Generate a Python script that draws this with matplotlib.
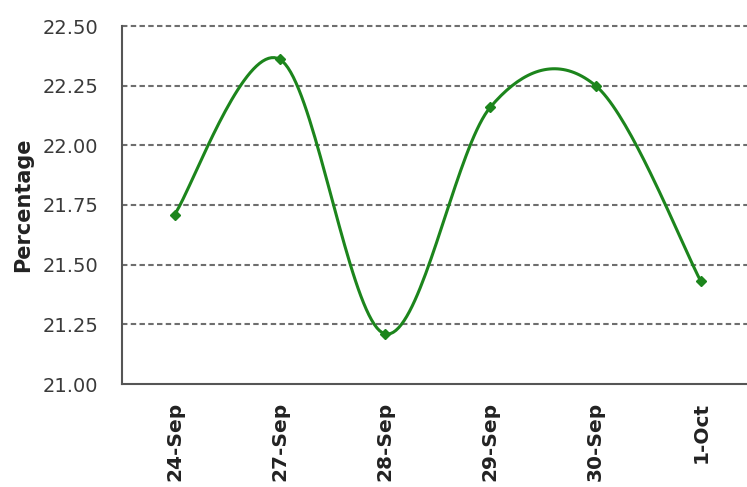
import numpy as np
import matplotlib
matplotlib.use("Agg")
from matplotlib import pyplot as plt

# daily percentage readings
dates = ["24-Sep", "27-Sep", "28-Sep", "29-Sep", "30-Sep", "1-Oct"]
values = [21.71, 22.36, 21.21, 22.16, 22.25, 21.43]
y_ticks = [21.00, 21.25, 21.50, 21.75, 22.00, 22.25, 22.50]


def smooth_curve(x, y, steps=40):
    # cubic bezier segments with catmull-rom style control points
    x = np.asarray(x, float)
    y = np.asarray(y, float)
    pts = np.column_stack([x, y])
    n = len(pts)
    out = []
    for i in range(n - 1):
        p0 = pts[max(i - 1, 0)]
        p1 = pts[i]
        p2 = pts[i + 1]
        p3 = pts[min(i + 2, n - 1)]
        c1 = p1 + (p2 - p0) / 6.0
        c2 = p2 - (p3 - p1) / 6.0
        t = np.linspace(0, 1, steps)[:, None]
        seg = ((1 - t) ** 3) * p1 + 3 * ((1 - t) ** 2) * t * c1 + 3 * (1 - t) * t ** 2 * c2 + t ** 3 * p2
        out.append(seg if i == 0 else seg[1:])
    curve = np.vstack(out)
    return curve[:, 0], curve[:, 1]


xs = np.arange(len(dates))
cx, cy = smooth_curve(xs, values)

fig = plt.figure(figsize=(7.47, 4.87), dpi=100)
# axes run off the right edge of the figure
ax = fig.add_axes([122 / 747, 1 - 384 / 487, (753.5 - 122) / 747, (384 - 26) / 487])

green = "#1c851c"
ax.plot(cx, cy, color=green, lw=2.2, solid_capstyle="round", zorder=3)
ax.plot(xs, values, linestyle="none", marker="D", ms=5, color=green, zorder=4)

ax.set_xlim(-0.5, len(dates) - 0.5)
ax.set_ylim(21.0, 22.5)
ax.set_yticks(y_ticks)
ax.set_yticklabels([f"{v:.2f}" for v in y_ticks], fontsize=14, color="#3a3a3a", family="DejaVu Sans")
ax.set_xticks(xs)
ax.set_xticklabels(dates, rotation=90, fontsize=14.5, fontweight="bold", color="#222222",
                   family="DejaVu Sans", va="top")

for v in y_ticks[1:]:
    ax.axhline(v, color="#6e6e6e", lw=1.5, dashes=(2.6, 1.6), zorder=1, clip_on=False)

ax.tick_params(axis="both", length=0)
ax.tick_params(axis="y", pad=17)
ax.tick_params(axis="x", pad=13)

for side in ["top", "right"]:
    ax.spines[side].set_visible(False)
for side in ["left", "bottom"]:
    ax.spines[side].set_color("#555555")
    ax.spines[side].set_linewidth(1.5)

fig.text(23 / 747, 1 - 205 / 487, "Percentage", rotation=90, ha="center", va="center",
         fontsize=15, fontweight="bold", color="#222222", family="DejaVu Sans")

fig.savefig("out.png", dpi=100)
